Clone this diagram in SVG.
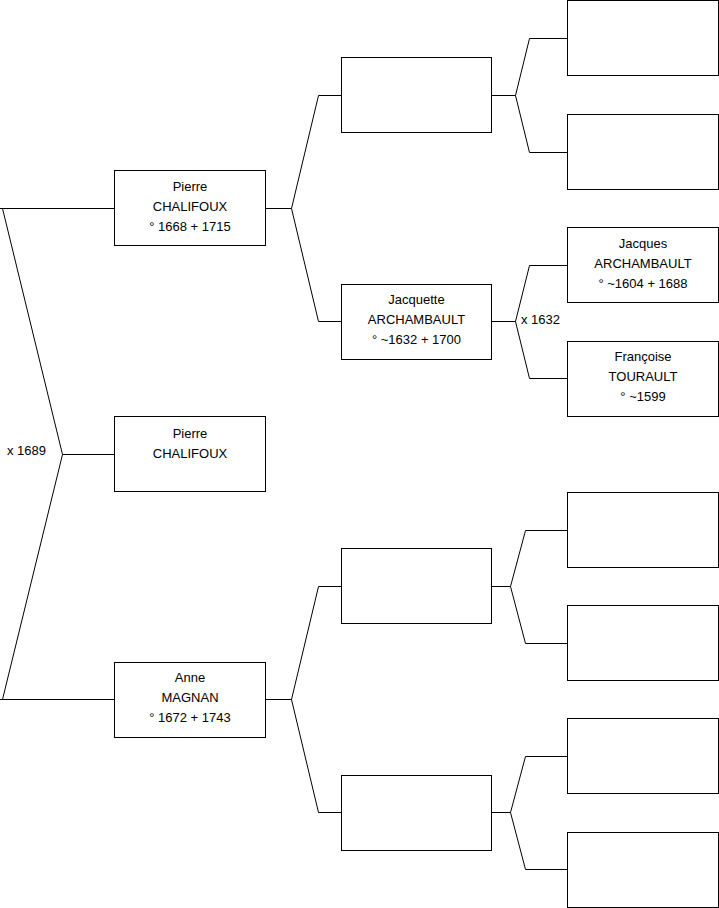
<svg xmlns="http://www.w3.org/2000/svg" width="719" height="908" viewBox="0 0 719 908">
<style>
.box{fill:#fff;stroke:#000;stroke-width:1}
.ln{fill:none;stroke:#000;stroke-width:1}
text{font-family:"Liberation Sans",Arial,sans-serif;font-size:13px;fill:#000}
.c{text-anchor:middle}
</style>
<rect width="719" height="908" fill="#fff"/>
<g id="connectors">
<path class="ln" d="M0,208.5 H114.5 M2.5,208.5 L62.5,454.5 L2.5,699.5 M62.5,454.5 H114.5 M0,699.5 H114.5"/>
<path class="ln" d="M265.5,208.5 H291.5 M318.5,95.5 L291.5,208.5 L318.5,321.5 M318.5,95.5 H341.5 M318.5,321.5 H341.5"/>
<path class="ln" d="M491.5,95.5 H515.5 M529.5,38.5 L515.5,95.5 L529.5,152.5 M529.5,38.5 H567.5 M529.5,152.5 H567.5"/>
<path class="ln" d="M491.5,321.5 H515.5 M529.5,265.5 L515.5,321.5 L529.5,378.5 M529.5,265.5 H567.5 M529.5,378.5 H567.5"/>
<path class="ln" d="M265.5,699.5 H291.5 M318.5,586.5 L291.5,699.5 L318.5,812.5 M318.5,586.5 H341.5 M318.5,812.5 H341.5"/>
<path class="ln" d="M491.5,586.5 H510.5 M525.5,530.5 L510.5,586.5 L525.5,643.5 M525.5,530.5 H567.5 M525.5,643.5 H567.5"/>
<path class="ln" d="M491.5,812.5 H510.5 M525.5,756.5 L510.5,812.5 L525.5,869.5 M525.5,756.5 H567.5 M525.5,869.5 H567.5"/>
<text x="7" y="455">x 1689</text>
<text x="521" y="324">x 1632</text>
</g>
<g id="pierre-father">
<rect class="box" x="114.5" y="170.5" width="151" height="75"/>
<text class="c" x="190" y="191">Pierre</text>
<text class="c" x="190" y="211">CHALIFOUX</text>
<text class="c" x="190" y="231">° 1668 + 1715</text>
</g>
<g id="pierre-child">
<rect class="box" x="114.5" y="416.5" width="151" height="75"/>
<text class="c" x="190" y="438">Pierre</text>
<text class="c" x="190" y="458">CHALIFOUX</text>
</g>
<g id="anne">
<rect class="box" x="114.5" y="662.5" width="151" height="75"/>
<text class="c" x="190" y="682">Anne</text>
<text class="c" x="190" y="702">MAGNAN</text>
<text class="c" x="190" y="722">° 1672 + 1743</text>
</g>
<g id="g2-1"><rect class="box" x="341.5" y="57.5" width="150" height="75"/></g>
<g id="jacquette">
<rect class="box" x="341.5" y="284.5" width="150" height="75"/>
<text class="c" x="416.5" y="304">Jacquette</text>
<text class="c" x="416.5" y="324">ARCHAMBAULT</text>
<text class="c" x="416.5" y="344">° ~1632 + 1700</text>
</g>
<g id="g2-3"><rect class="box" x="341.5" y="548.5" width="150" height="75"/></g>
<g id="g2-4"><rect class="box" x="341.5" y="775.5" width="150" height="75"/></g>
<g id="g3-1"><rect class="box" x="567.5" y="0.5" width="151" height="75"/></g>
<g id="g3-2"><rect class="box" x="567.5" y="114.5" width="151" height="75"/></g>
<g id="jacques">
<rect class="box" x="567.5" y="227.5" width="151" height="75"/>
<text class="c" x="643" y="248">Jacques</text>
<text class="c" x="643" y="268">ARCHAMBAULT</text>
<text class="c" x="643" y="288">° ~1604 + 1688</text>
</g>
<g id="francoise">
<rect class="box" x="567.5" y="341.5" width="151" height="75"/>
<text class="c" x="643" y="361">Françoise</text>
<text class="c" x="643" y="381">TOURAULT</text>
<text class="c" x="643" y="401">° ~1599</text>
</g>
<g id="g3-5"><rect class="box" x="567.5" y="492.5" width="151" height="75"/></g>
<g id="g3-6"><rect class="box" x="567.5" y="605.5" width="151" height="75"/></g>
<g id="g3-7"><rect class="box" x="567.5" y="718.5" width="151" height="75"/></g>
<g id="g3-8"><rect class="box" x="567.5" y="832.5" width="151" height="75"/></g>
</svg>
